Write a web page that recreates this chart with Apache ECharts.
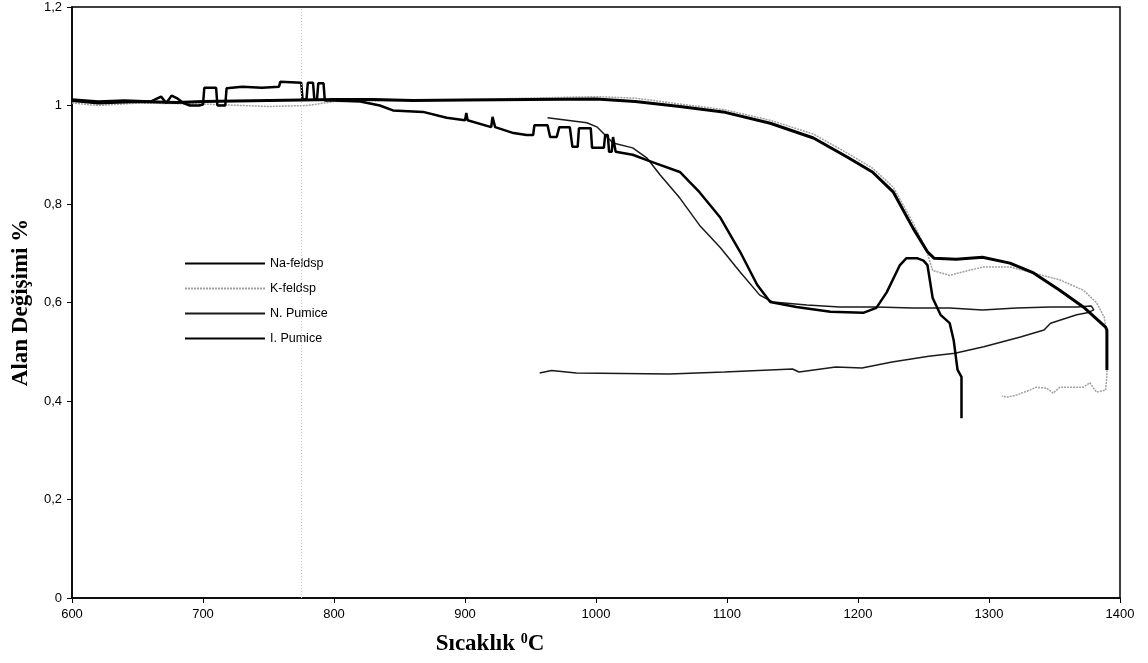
<!DOCTYPE html>
<html>
<head>
<meta charset="utf-8">
<script src="https://cdn.jsdelivr.net/npm/echarts@6/dist/echarts.min.js"></script>
<style>
html,body{margin:0;padding:0;background:#fff;}
#chart{width:1148px;height:663px;}
</style>
</head>
<body>
<div id="chart"></div>
<script>
// ---- data (temperature °C, area change) ----
const seriesNames = ['Na-feldsp', 'K-feldsp', 'N. Pumice', 'I. Pumice'];
const xTicks = [600, 700, 800, 900, 1000, 1100, 1200, 1300, 1400];
const yTicks = [0, 0.2, 0.4, 0.6, 0.8, 1, 1.2];

const naT = [600, 620, 650, 680, 700, 750, 800, 830, 860, 900, 950, 1000, 1030, 1064, 1097, 1133, 1166, 1192, 1211, 1227, 1242, 1253, 1258, 1275, 1295, 1316, 1334, 1354, 1372, 1389, 1390, 1390];
const naV = [1.01, 1.005, 1.008, 1.006, 1.008, 1.01, 1.012, 1.012, 1.01, 1.011, 1.012, 1.013, 1.008, 0.998, 0.987, 0.964, 0.934, 0.895, 0.865, 0.824, 0.751, 0.703, 0.69, 0.688, 0.692, 0.68, 0.66, 0.625, 0.591, 0.55, 0.544, 0.463];

const kT = [600, 620, 650, 700, 750, 780, 800, 850, 900, 950, 1000, 1030, 1064, 1097, 1133, 1166, 1192, 1211, 1227, 1242, 1252, 1257, 1270, 1280, 1295, 1316, 1334, 1354, 1372, 1382, 1388, 1390, 1390, 1389, 1382, 1377, 1372, 1354, 1349, 1344, 1336, 1331, 1321, 1314, 1310];
const kV = [1.005, 1.0, 1.005, 1.003, 0.998, 1.0, 1.008, 1.01, 1.012, 1.015, 1.018, 1.015, 1.003, 0.992, 0.97, 0.942, 0.903, 0.873, 0.834, 0.762, 0.708, 0.665, 0.655, 0.662, 0.672, 0.672, 0.66, 0.646, 0.625, 0.6, 0.57, 0.53, 0.45, 0.422, 0.418, 0.437, 0.428, 0.428, 0.416, 0.426, 0.428, 0.422, 0.412, 0.408, 0.41];

const nT = [963, 978, 993, 1001, 1013, 1028, 1039, 1049, 1064, 1079, 1095, 1110, 1125, 1135, 1161, 1186, 1214, 1242, 1270, 1295, 1321, 1347, 1367, 1378, 1380, 1375, 1367, 1347, 1342, 1324, 1296, 1274, 1254, 1226, 1203, 1183, 1155, 1150, 1098, 1056, 985, 966, 957];
const nV = [0.975, 0.97, 0.965, 0.956, 0.924, 0.914, 0.893, 0.859, 0.812, 0.757, 0.711, 0.662, 0.615, 0.601, 0.595, 0.591, 0.591, 0.589, 0.589, 0.585, 0.589, 0.591, 0.591, 0.593, 0.585, 0.579, 0.575, 0.558, 0.544, 0.53, 0.51, 0.497, 0.491, 0.479, 0.467, 0.469, 0.459, 0.465, 0.459, 0.455, 0.457, 0.462, 0.457];

const iT = [600, 620, 640, 660, 668, 672, 676, 680, 685, 690, 697, 700, 701, 710, 711, 717, 718, 730, 745, 758, 759, 775, 776, 779, 780, 784, 785, 787, 788, 792, 793, 800, 820, 835, 845, 868, 886, 900, 901, 902, 920, 921, 923, 937, 947, 952, 953, 963, 965, 970, 972, 980, 982, 986, 987, 996, 997, 1006, 1007, 1009, 1010, 1012, 1013, 1014, 1015, 1028, 1043, 1064, 1079, 1095, 1110, 1123, 1133, 1153, 1179, 1204, 1214, 1222, 1232, 1237, 1245, 1250, 1253, 1257, 1263, 1270, 1273, 1276, 1279, 1279];
const iV = [1.012, 1.008, 1.01, 1.008, 1.018, 1.005, 1.02, 1.015, 1.005, 1.0, 1.0, 1.002, 1.036, 1.036, 1.0, 1.0, 1.035, 1.038, 1.036, 1.038, 1.048, 1.046, 1.012, 1.012, 1.046, 1.046, 1.012, 1.012, 1.045, 1.045, 1.01, 1.01, 1.008, 1.0, 0.99, 0.987, 0.975, 0.97, 0.985, 0.97, 0.956, 0.977, 0.956, 0.944, 0.94, 0.94, 0.96, 0.96, 0.936, 0.936, 0.956, 0.956, 0.916, 0.916, 0.954, 0.954, 0.914, 0.914, 0.94, 0.94, 0.906, 0.906, 0.936, 0.936, 0.906, 0.9, 0.885, 0.865, 0.824, 0.772, 0.703, 0.636, 0.601, 0.591, 0.581, 0.579, 0.589, 0.621, 0.676, 0.69, 0.69, 0.685, 0.676, 0.609, 0.575, 0.558, 0.524, 0.463, 0.449, 0.365];

const markerTemp = 775; // faint vertical dotted line in the scan

function zip(t, v) { return t.map((x, i) => [x, v[i]]); }

const chart = echarts.init(document.getElementById('chart'));
const option = {
  backgroundColor: '#fff',
  animation: false,
  grid: { left: 72, right: 28, top: 7, bottom: 65, show: true, borderColor: '#000', borderWidth: 1.5, backgroundColor: 'transparent' },
  legend: {
    orient: 'vertical', left: 184, top: 257, padding: 0, itemWidth: 80, itemHeight: 14, itemGap: 12,
    itemStyle: { opacity: 0 },
    textStyle: { fontFamily: 'Liberation Sans, Arial', fontSize: 12.5, color: '#000' },
    data: seriesNames
  },
  xAxis: {
    type: 'value', min: 600, max: 1400, interval: 100,
    name: 'Sıcaklık {sup|0}C', nameLocation: 'middle', nameGap: 34,
    nameTextStyle: { fontFamily: 'Liberation Serif, Times New Roman', fontWeight: 'bold', fontSize: 23, color: '#000', padding: [0, 212, 0, 0],
      rich: { sup: { fontFamily: 'Liberation Serif', fontWeight: 'bold', fontSize: 14, verticalAlign: 'top', padding: [0, 0, 10, 0], color: '#000' } } },
    axisLine: { lineStyle: { color: '#000', width: 1.5 } },
    axisTick: { show: true, length: 5, lineStyle: { color: '#000' } },
    axisLabel: { fontFamily: 'Liberation Sans, Arial', fontSize: 13, color: '#000', margin: 10, formatter: v => xTicks.includes(v) ? String(v) : '' },
    splitLine: { show: false }
  },
  yAxis: {
    type: 'value', min: 0, max: 1.2, interval: 0.2,
    name: 'Alan Değişimi %', nameLocation: 'middle', nameGap: 39, nameRotate: 90,
    nameTextStyle: { fontFamily: 'Liberation Serif, Times New Roman', fontWeight: 'bold', fontSize: 23, color: '#000' },
    axisLine: { show: true, lineStyle: { color: '#000', width: 1.5 } },
    axisTick: { show: true, length: 5, lineStyle: { color: '#000' } },
    axisLabel: { fontFamily: 'Liberation Sans, Arial', fontSize: 13, color: '#000', margin: 10,
      formatter: v => { const t = yTicks.find(k => Math.abs(k - v) < 1e-6); return t === undefined ? '' : String(Math.round(t * 10) / 10).replace('.', ','); } },
    splitLine: { show: false }
  },
  series: [
    { name: 'K-feldsp', type: 'line', data: zip(kT, kV), showSymbol: false, symbol: 'none', z: 2,
      itemStyle: { color: '#a0a0a0' }, lineStyle: { color: '#a0a0a0', width: 1.5, type: [2, 1] },
      markLine: { silent: true, symbol: 'none', label: { show: false }, lineStyle: { color: '#c8c8c8', width: 1, type: [1, 2] }, data: [{ xAxis: markerTemp }] } },
    { name: 'N. Pumice', type: 'line', data: zip(nT, nV), showSymbol: false, symbol: 'none', z: 3,
      itemStyle: { color: '#1a1a1a' }, lineStyle: { color: '#1a1a1a', width: 1.5 } },
    { name: 'I. Pumice', type: 'line', data: zip(iT, iV), showSymbol: false, symbol: 'none', z: 4,
      itemStyle: { color: '#000' }, lineStyle: { color: '#000', width: 2.5 } },
    { name: 'Na-feldsp', type: 'line', data: zip(naT, naV), showSymbol: false, symbol: 'none', z: 5,
      itemStyle: { color: '#000' }, lineStyle: { color: '#000', width: 3 } }
  ]
};
chart.setOption(option);
</script>
</body>
</html>
